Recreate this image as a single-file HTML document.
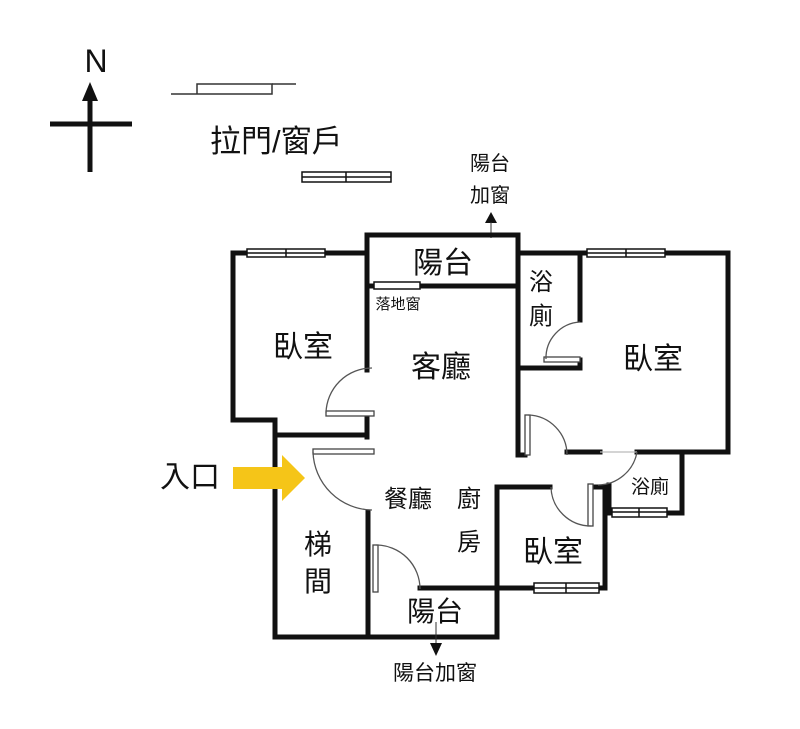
<!DOCTYPE html>
<html><head><meta charset="utf-8"><style>
html,body{margin:0;padding:0;background:#fff;}
svg{display:block;}
text{font-family:"Liberation Sans","Noto Sans CJK TC",sans-serif;fill:#111;}
</style></head><body>
<svg width="800" height="729" viewBox="0 0 800 729" xmlns="http://www.w3.org/2000/svg">
<rect width="800" height="729" fill="#fff"/>
<!-- North -->
<text x="96" y="72" font-size="32" text-anchor="middle">N</text>
<line x1="90" y1="98" x2="90" y2="172" stroke="#111" stroke-width="5"/>
<line x1="50" y1="124" x2="132" y2="124" stroke="#111" stroke-width="5"/>
<polygon points="90,82 82,101 98,101" fill="#111"/>
<!-- legend -->
<polyline points="171,94 197,94 197,84 272,84 272,94 197,94" fill="none" stroke="#333" stroke-width="1.5"/>
<line x1="272" y1="84" x2="296" y2="84" stroke="#333" stroke-width="1.5"/>
<text x="210" y="152" font-size="31">拉門/窗戶</text>
<g stroke="#111" fill="#fff" stroke-width="1.5">
<rect x="302" y="172" width="89" height="10"/><line x1="302" y1="177" x2="391" y2="177"/><line x1="346" y1="172" x2="346" y2="182"/>
</g>
<text x="490" y="170" font-size="20" text-anchor="middle">陽台</text>
<text x="490" y="202" font-size="20" text-anchor="middle">加窗</text>
<polygon points="491,212 485,223 497,223" fill="#111"/>
<line x1="491" y1="222" x2="491" y2="238" stroke="#333" stroke-width="1"/>
<!-- walls -->
<g stroke="#111" stroke-width="5" fill="none" stroke-linecap="square">
<polyline points="367,253 233,253 233,420 275,420 275,637 497,637 497,487 550,487"/>
<line x1="275" y1="435" x2="367" y2="435"/>
<line x1="367" y1="415" x2="367" y2="437"/>
<polyline points="367,370 367,235 518,235 518,455"/>
<line x1="420" y1="286" x2="518" y2="286"/>
<line x1="367" y1="286" x2="374" y2="286"/>
<polyline points="518,253 728,253 728,452 637,452"/>
<line x1="567" y1="452" x2="600" y2="452"/>
<line x1="580" y1="253" x2="580" y2="320"/>
<polyline points="518,368 580,368 580,360"/>
<line x1="368" y1="512" x2="368" y2="637"/>
<line x1="420" y1="588" x2="535" y2="588"/>
<line x1="599" y1="588" x2="605" y2="588"/>
<polyline points="596,487 605,487 605,588"/>
<polyline points="682,452 682,513 667,513"/>
<line x1="609" y1="485" x2="609" y2="513"/>
<line x1="518" y1="455" x2="525" y2="455"/>
</g>
<!-- windows -->
<g stroke="#111" fill="#fff" stroke-width="1.5">
<rect x="247" y="249" width="78" height="8"/><line x1="247" y1="253" x2="325" y2="253"/><line x1="286" y1="249" x2="286" y2="257"/>
<rect x="587" y="249" width="78" height="8"/><line x1="587" y1="253" x2="665" y2="253"/><line x1="626" y1="249" x2="626" y2="257"/>
<rect x="534" y="583" width="65" height="10"/><line x1="534" y1="588" x2="599" y2="588"/><line x1="566" y1="583" x2="566" y2="593"/>
<rect x="612" y="508" width="55" height="9"/><line x1="612" y1="512" x2="667" y2="512"/><line x1="639" y1="508" x2="639" y2="517"/>
<rect x="374" y="282" width="46" height="7"/>
</g>
<!-- doors -->
<g stroke="#555" fill="none" stroke-width="1.3">
<rect x="326" y="411" width="48" height="5" fill="#fff" stroke="#444"/>
<path d="M326,413 A46,46 0 0 1 372,368"/>
<rect x="313" y="449" width="61" height="5" fill="#fff" stroke="#444"/>
<path d="M313,452 A60,60 0 0 0 372,510"/>
<rect x="544" y="357" width="36" height="5" fill="#fff" stroke="#444"/>
<path d="M546,359 A36,36 0 0 1 580,322"/>
<rect x="525" y="415" width="5" height="40" fill="#fff" stroke="#444"/>
<path d="M528,415 A40,40 0 0 1 567,455"/>
<path d="M600,452 L637,452" stroke="#bbb"/>
<path d="M637,452 A40,40 0 0 1 598,485"/>
<rect x="588" y="484" width="5" height="42" fill="#fff" stroke="#444"/>
<path d="M551,487 A40,40 0 0 0 591,526"/>
<rect x="373" y="545" width="5" height="47" fill="#fff" stroke="#444"/>
<path d="M376,545 A44,44 0 0 1 420,589"/>
</g>
<!-- entry arrow -->
<rect x="233" y="467" width="50" height="22" fill="#f5c518"/>
<polygon points="282,455 305,478 282,501" fill="#f5c518"/>
<!-- labels -->
<text x="303" y="357" font-size="30" text-anchor="middle">臥室</text>
<text x="441" y="377" font-size="30" text-anchor="middle">客廳</text>
<text x="443" y="273" font-size="30" text-anchor="middle">陽台</text>
<text x="398" y="309" font-size="15" text-anchor="middle">落地窗</text>
<text x="541" y="290" font-size="24" text-anchor="middle">浴</text>
<text x="541" y="324" font-size="24" text-anchor="middle">廁</text>
<text x="653" y="369" font-size="30" text-anchor="middle">臥室</text>
<text x="190" y="487" font-size="30" text-anchor="middle">入口</text>
<text x="408" y="507" font-size="24" text-anchor="middle">餐廳</text>
<text x="469" y="507" font-size="24" text-anchor="middle">廚</text>
<text x="469" y="550" font-size="24" text-anchor="middle">房</text>
<text x="318" y="554" font-size="28" text-anchor="middle">梯</text>
<text x="318" y="591" font-size="28" text-anchor="middle">間</text>
<text x="553" y="562" font-size="30" text-anchor="middle">臥室</text>
<text x="650" y="493" font-size="19" text-anchor="middle">浴廁</text>
<text x="435" y="621" font-size="28" text-anchor="middle">陽台</text>
<line x1="436" y1="622" x2="436" y2="650" stroke="#333" stroke-width="1"/>
<polygon points="430,643 442,643 436,656" fill="#111"/>
<text x="435" y="680" font-size="21" text-anchor="middle">陽台加窗</text>
</svg>
</body></html>
